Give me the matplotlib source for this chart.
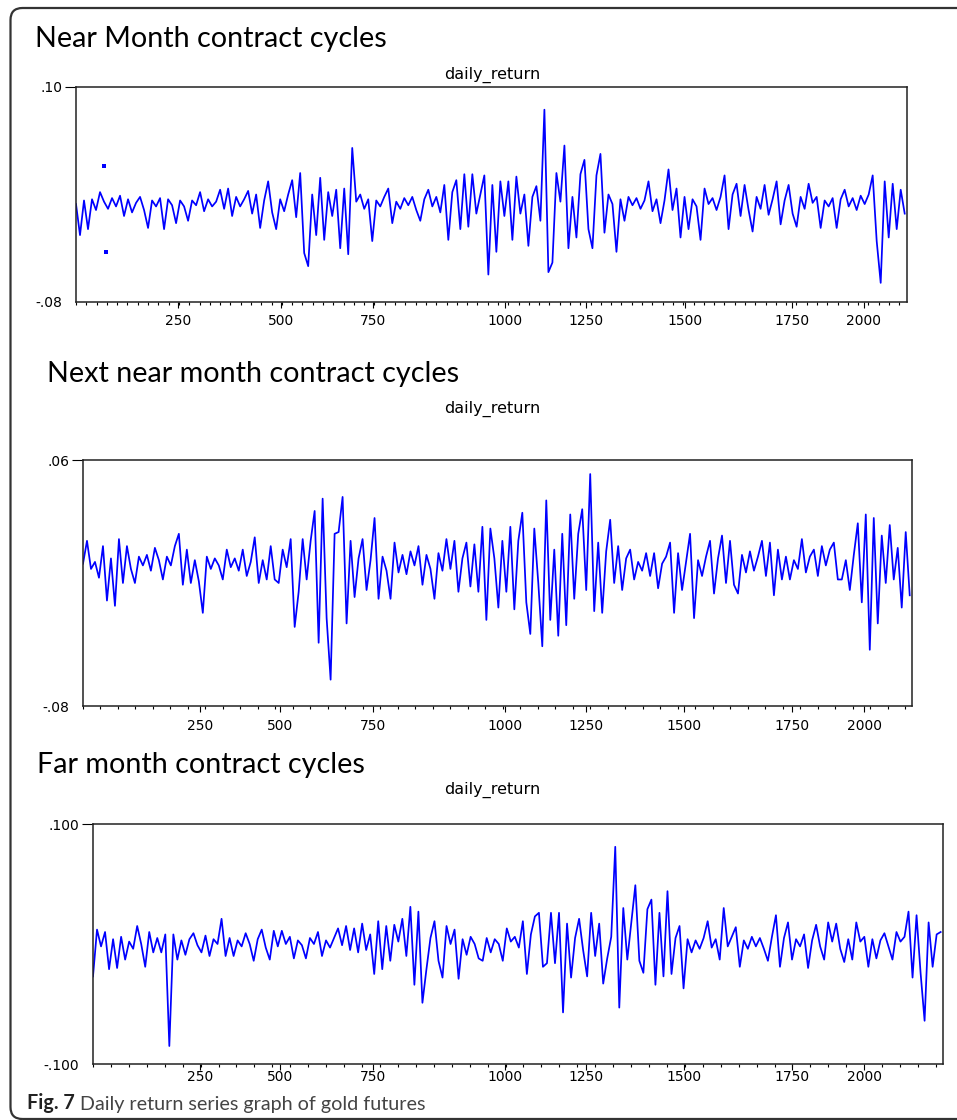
import numpy as np
import matplotlib.pyplot as plt
from matplotlib.patches import FancyBboxPatch
from matplotlib.ticker import FixedLocator, MultipleLocator
from matplotlib.transforms import IdentityTransform

W, H = 957, 1120

# daily returns, in units of 0.001
near_month = [
    2, -24, 5, -19, 6, -3, 12, 4, -2, 7, 0, 9, -8, 6, -5, 3, 8, -3, -18, 5,
    0, 7, -19, 6, 1, -14, 5, 0, -12, 5, 1, 12, -4, 6, 0, 4, 14, -2, 15, -8,
    8, 0, 6, 13, -6, 10, -18, 5, 21, -5, -19, 6, -4, 10, 22, -9, 28, -39, -50, 10,
    -24, 24, -28, 12, -8, 14, -35, 15, -40, 49, 4, 10, -2, 6, -29, 5, 0, 8, 15, -14,
    4, -2, 7, 1, 8, -3, -12, 6, 14, 0, 8, -5, 18, -28, 12, 22, -19, 27, -17, 27,
    -6, 10,
    26, -57, 18, -38, 21, -8, 21, -28, 25, -6, 10, -33, 8, 17, -12, 81, -55, -47, 28, 4,
    51, -35, 8, -26, 27, 39, -19, -35, 26, 44, -22, 10, 2, -38, 6, -12, 8, 1, 7, -2,
    5, 21, -4, 6, -14, 5, 31, -3, 15, -26, 8, -19, 6, 0, -28, 15, 2, 7, -3, 8,
    26, -19, 10, 19, -8, 18, -3, -21, 8, -2, 18, -7, 6, 21, -15, 5, 18, -6, -17, 8,
    -2, 19, 3, 8, -18, 5, 0, 7, -18, 6, 14, 0, 7, -3, 9, 2, 10, 26, -29, -64,
    21, -26, 19, -19, 14, -6,
]

next_near_month = [
    1, 14, -2, 2, -7, 11, -20, 4, -23, 15, -10, 11, -2, -10, 5, 0, 6, -3, 10, 3,
    -8, 5, 0, 11, 18, -11, 9, -10, 3, -9, -27, 5, -2, 4, 0, -8, 9, -1, 4, -3,
    9, -6, 2, 16, -10, 3, -8, 11, -8, -10, 9, -1, 15, -35, -15, 15, -8, 14, 31, -44,
    38, -30, -65, 18, 19, 39, -33, 14, -18, 4, 15, -14, 3, 27, -19, 5, -3, -19, 13, -4,
    6, -5, 8, 0, 11, -11, 6, -2, -19, 7, -3, 15, -2, 14, -15, 4, 13, -12, 12, -15,
    22, -31, 21, 4, -24, 14, -15, 22, -25, 14, 30, -21, -39, 21, -10, -46, 37, -31, 9, -40,
    18, -34, 29, -19, 18, 32, -14, 52, -26, 13, -27, 8, 26, -10, 11, -14, 4, 9, -8, 2,
    -3, 7, -6, 7, -13, 1, 5, 13, -27, 7, -14, 2, 18, -30, 3, -6, 5, 14, -16, 4,
    17, -10, 14, -11, -16, 6, -4, 8, -3, 5, 14, -6, 13, -17, 9, -8, 5, -8, 3, -2,
    15, -4, 5, 9, -6, 11, 0, 9, 13, -8, -8, 3, -14, 6, 24, -21, 29, -48, 27, -33,
    17, -10, 23, -8, 10, -24, 19, -17,
]

far_month = [
    -27, 12, -2, 10, -21, 4, -20, 6, -13, 2, -4, 15, 0, -19, 10, -7, 5, -7, 8, -85,
    8, -13, 3, -9, 4, 9, -1, -7, 7, -10, 4, 0, 21, -10, 5, -10, 3, -2, 9, 0,
    -14, 4, 12, -3, -13, 11, -2, 11, 0, 6, -12, 3, -1, -12, 5, 0, 10, -10, 3, -3,
    5, 13, -1, 15, -5, 13, -7, 17, -5, 8, -25, 19, -21, 15, -14, 16, 2, 21, -10, 31,
    -34, 27, -49, -21, 5, 19, -14, -28, 15, 0, 12, -29, 4, -9, 6, 0, -12,
    -14, 5, -7, 4, 0, -14, 13, 2, 6, -3, 19, -25, 8, 23, 26, -19, -16, 26, -16, 26,
    -57, 17, -28, 5, 21, -5, -27, 26, -10, 17, -33, -12, 6, 81, -53, 30, -13, 18, 49, -14,
    -24, 29, 37, -34, 26, -27, 44, -25, 5, 15, -37, 4, -7, 3, -4, 5, 19, -3, 4, -13,
    30, -2, 6, 14, -19, 3, -4, 6, -2, 5, -4, -14, 6, 24, -19, 5, 18, -13, 4, -2,
    8, -20, 3, 16, -2, -13, 18, 2, 17, -4, -15, 4, -13, 18, 2, 6, -19, 4, -12, 3,
    9, -2, -13, 10, 2, 6, 27, -28, 24, -24, -64, 18, -19, 8, 10,
]

# two lone observations shown as dots near the start of the near month series
near_dot_obs = [74, 78]
near_dot_ret = [34, -38]

x_tick_labels = ['250', '500', '750', '1000', '1250', '1500', '1750', '2000']
# positions of the labels along each printed axis, in observation units
near_ticks = [268, 538, 779, 1125, 1338, 1598, 1878, 2067]
next_ticks = [308, 518, 763, 1110, 1323, 1580, 1864, 2054]
far_ticks = [274, 480, 718, 1057, 1264, 1516, 1793, 1978]

titles = ['Near Month contract cycles', 'Next near month contract cycles',
          'Far month contract cycles']
y_ranges = [(-0.08, 0.10), (-0.08, 0.06), (-0.100, 0.100)]
y_labels = [['-.08', '.10'], ['-.08', '.06'], ['-.100', '.100']]
n_obs = 2180


def rect(l, t, r, b):
    return [l / W, 1 - b / H, (r - l) / W, (b - t) / H]


fig = plt.figure(figsize=(W / 100, H / 100), dpi=100)

# rounded frame round the whole figure
frame = FancyBboxPatch((10.5, 1), 980, 1111, boxstyle='round,pad=0,rounding_size=12',
                       transform=IdentityTransform(), fill=False, ec='#333333', lw=1.6)
fig.add_artist(frame)

layout = [
    dict(box=rect(76, 87, 907, 302), title=(35, 47), sub=79, minor=27, pad=5),
    dict(box=rect(83, 460, 912, 706), title=(47, 382), sub=413, minor=46, pad=5),
    dict(box=rect(93, 824, 943, 1064), title=(37, 773), sub=794, minor=46, pad=0),
]
series = [near_month, next_near_month, far_month]
ticks = [near_ticks, next_ticks, far_ticks]

for i in range(3):
    lay = layout[i]
    ax = fig.add_axes(lay['box'])
    vals = np.array(series[i]) / 1000
    x = np.linspace(0, n_obs - 6, len(vals))
    ax.plot(x, vals, color='#0000ff', lw=1.25)
    if i == 0:
        ax.plot(near_dot_obs, np.array(near_dot_ret) / 1000, 's', ms=2.8, mew=0,
                color='#0000ff')
    ax.set_xlim(0, n_obs)
    ax.set_ylim(*y_ranges[i])

    ax.xaxis.set_major_locator(FixedLocator(ticks[i]))
    ax.set_xticklabels(x_tick_labels)
    ax.xaxis.set_minor_locator(MultipleLocator(lay['minor']))
    ax.tick_params(axis='x', which='major', length=4, width=0.8, pad=lay['pad'], labelsize=10)
    ax.tick_params(axis='x', which='minor', length=2.5, width=0.8)

    ax.set_yticks(list(y_ranges[i]))
    ax.set_yticklabels(y_labels[i])
    ax.tick_params(axis='y', length=8, width=0.8, pad=2, labelsize=10)
    ax.yaxis.get_major_ticks()[0].tick1line.set_visible(False)
    for s in ax.spines.values():
        s.set_linewidth(1.1)
        s.set_color('#222222')

    tx, ty = lay['title']
    fig.text(tx / W, 1 - ty / H, titles[i], va='baseline', fontsize=20.7, family='Lato')
    fig.text(492 / W, 1 - lay['sub'] / H, 'daily_return', ha='center', va='baseline',
             fontsize=11.5, family='DejaVu Sans')

cap = fig.text(27 / W, 1 - 1109 / H, 'Fig. 7', va='baseline', fontsize=14.2,
               family='Lato', fontweight='bold', color='#222222')
plt.annotate(' Daily return series graph of gold futures', xy=(1, 0), xycoords=cap,
             va='bottom', fontsize=14.2, family='Lato', color='#444444',
             annotation_clip=False)

fig.savefig('out.png', dpi=100)
